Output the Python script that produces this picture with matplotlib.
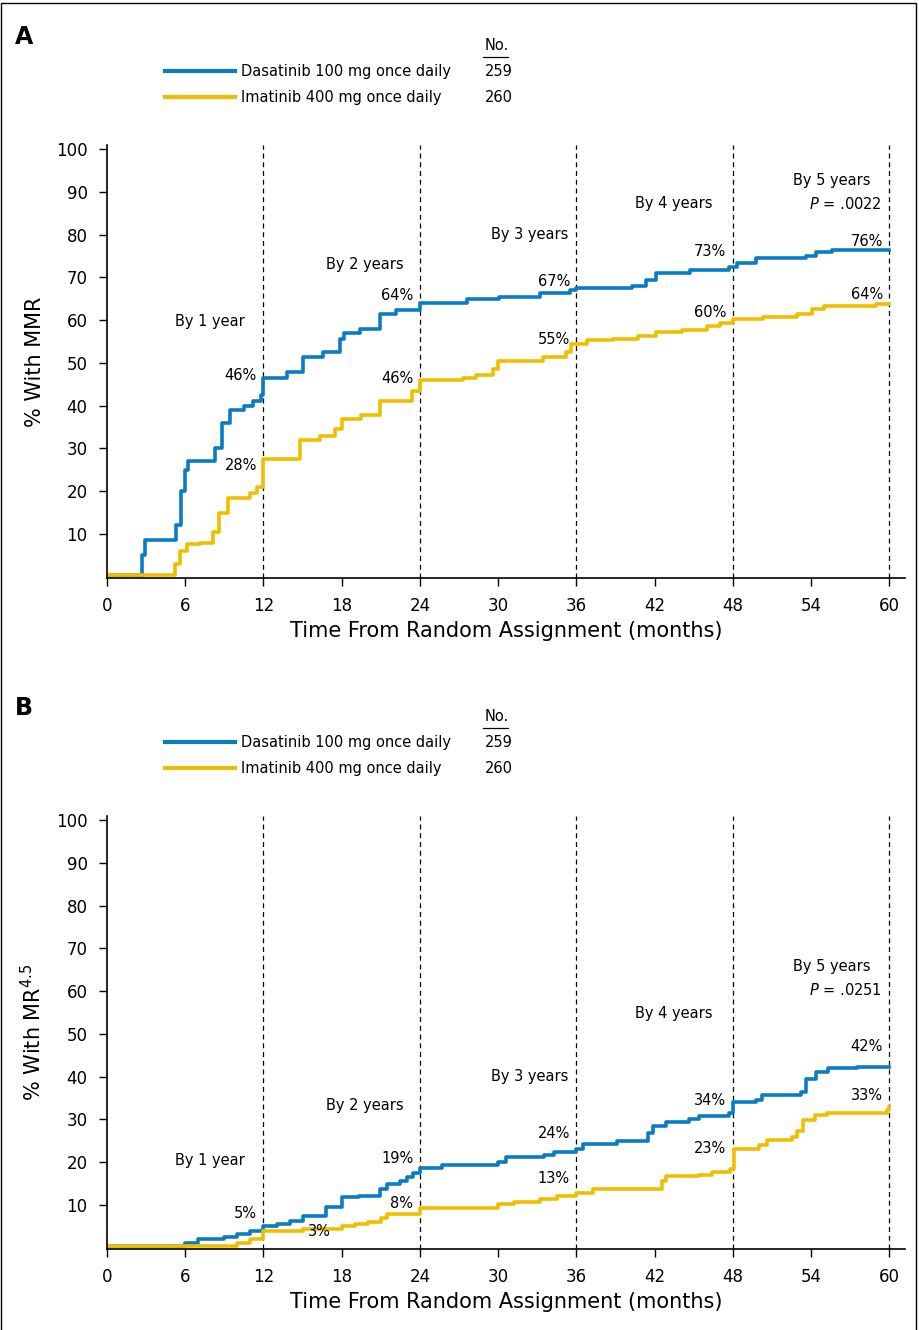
import matplotlib.pyplot as plt
from matplotlib.lines import Line2D
from matplotlib.patches import Rectangle

BLUE = '#0a7cc1'
GOLD = '#f0be00'

# Panel A (MMR): step points (month, %)
a_das_t = [0, 2.7, 2.9, 5.3, 5.7, 6.0, 6.2, 8.3, 8.8, 9.4, 10.5, 11.2, 11.8, 12.0, 13.8, 15.0, 16.6, 17.9, 18.2,
           19.4, 20.9, 22.2, 24.0, 27.6, 30.1, 33.2, 35.5, 36.0, 40.3, 41.3, 42.1, 44.7, 47.7, 48.3, 49.8, 53.6,
           54.4, 55.6, 60.0]
a_das_v = [0.5, 5, 8.5, 12, 20, 25, 27, 30, 36, 39, 40, 41, 42.5, 46.5, 48, 51.5, 52.5, 55.5, 57,
           58, 61.5, 62.5, 64, 65, 65.5, 66.3, 67, 67.5, 68, 69.5, 71, 71.8, 72.5, 73.5, 74.5, 75,
           76, 76.5, 76.5]
a_ima_t = [0, 5.2, 5.6, 6.1, 7.1, 8.1, 8.6, 9.3, 11.0, 11.5, 12.0, 14.8, 16.3, 17.5, 18.0, 19.5, 20.9, 23.4,
           24.0, 27.3, 28.3, 29.6, 30.0, 33.4, 35.2, 35.6, 36.8, 38.8, 40.7, 42.1, 44.1, 46.0, 47.0, 48.0,
           50.3, 52.9, 54.1, 55.0, 59.0, 60.0]
a_ima_v = [0.5, 3, 6, 7.7, 8, 10.5, 15, 18.5, 19.5, 21, 27.5, 32, 33, 34.5, 37, 37.8, 41, 43.5,
           46, 46.5, 47.3, 48.5, 50.5, 51.5, 52.5, 54.5, 55.3, 55.6, 56.3, 57.2, 57.8, 58.6, 59.3, 60.3,
           60.8, 61.5, 62.7, 63.3, 63.8, 63.8]

# Panel B (MR4.5)
b_das_t = [0, 6.0, 7.0, 9.0, 10.0, 11.0, 12.0, 13.0, 14.0, 15.0, 16.8, 18.0, 19.3, 20.9, 21.5, 22.5, 23.0,
           23.5, 24.0, 25.7, 30.0, 30.6, 33.5, 34.3, 36.0, 36.5, 39.1, 41.5, 41.9, 42.9, 44.6, 45.4, 47.7,
           48.0, 49.8, 50.2, 53.2, 53.6, 54.4, 55.3, 57.5, 60.0]
b_das_v = [0.5, 1.2, 2, 2.5, 3.2, 3.8, 5, 5.5, 6.2, 7.5, 9.5, 11.8, 12.2, 13.8, 14.8, 15.5, 16.5,
           17.5, 18.6, 19.3, 20, 21.3, 21.8, 22.3, 23.2, 24.3, 25, 26.8, 28.5, 29.5, 30.2, 30.8, 31.5,
           34, 34.5, 35.8, 36.5, 39.5, 41, 42, 42.3, 42.3]
b_ima_t = [0, 10.0, 11.0, 12.0, 15.0, 18.0, 19.0, 20.0, 21.0, 21.5, 24.0, 30.0, 31.2, 33.2, 34.5, 36.0,
           37.3, 42.6, 42.9, 45.4, 46.4, 47.8, 48.1, 50.0, 50.6, 52.5, 52.9, 53.4, 54.3, 55.2, 59.8, 60.0]
b_ima_v = [0.5, 1, 2, 3.8, 4.3, 5, 5.5, 6, 7, 8, 9.3, 10.3, 10.8, 11.3, 12, 12.8,
           13.8, 15.5, 16.8, 17, 17.6, 18.5, 23, 24, 25.3, 25.8, 27.3, 29.8, 31, 31.6, 32.3, 33]

years = [12, 24, 36, 48, 60]
by_labels = ['By 1 year', 'By 2 years', 'By 3 years', 'By 4 years', 'By 5 years']
a_by_pos = [(7.9, 59.8), (19.8, 73), (32.4, 80), (43.5, 87.4), (55.6, 92.8)]
b_by_pos = [(7.9, 20.4), (19.8, 33.3), (32.4, 40), (43.5, 54.8), (55.6, 65.8)]
a_das_pct = [('46%', 47), ('64%', 65.7), ('67%', 69), ('73%', 76), ('76%', 78.5)]
a_ima_pct = [('28%', 26), ('46%', 46.3), ('55%', 55.6), ('60%', 61.7), ('64%', 66)]
b_das_pct = [('5%', 8), ('19%', 20.8), ('24%', 26.7), ('34%', 34.4), ('42%', 47)]
b_ima_pct = [('3%', 3.7), ('8%', 10.3), ('13%', 16.2), ('23%', 23.2), ('33%', 35.6)]
p_values = ['.0022', '.0251']
ylabels = ['% With MMR', '% With MR$^{4.5}$']
ytick_vals = list(range(10, 101, 10))
xtick_vals = list(range(0, 61, 6))

fig = plt.figure(figsize=(9.19, 13.3), dpi=100)
fig.patches.append(Rectangle((0.0015, -0.01), 0.9955, 1.008, transform=fig.transFigure,
                             fill=False, ec='black', lw=1))


def panel(bottom, letter, das, ima, by_pos, das_pct, ima_pct, pval, ylab):
    ax = fig.add_axes([107 / 919, bottom, (905 - 107) / 919, 0.3256])
    ax.step(das[0], das[1], where='post', color=BLUE, lw=2.6)
    ax.step(ima[0], ima[1], where='post', color=GOLD, lw=2.6)
    for yr in years:
        ax.axvline(yr, color='black', ls=(0, (4, 3)), lw=0.9, zorder=0)
    for lab, (x, y) in zip(by_labels, by_pos):
        ax.text(x, y, lab, ha='center', va='center', fontsize=10.5)
    ax.text(60 - 0.6, by_pos[-1][1] - 5.6, '$P$ = ' + pval, ha='right', va='center', fontsize=10.5)
    for yr, (lab, y) in zip(years, das_pct):
        ax.text(yr - 0.5, y, lab, ha='right', va='center', fontsize=10.5)
    for yr, (lab, y) in zip(years, ima_pct):
        if lab == '3%':
            ax.text(16.3, y, lab, ha='center', va='center', fontsize=10.5)
        else:
            ax.text(yr - 0.5, y, lab, ha='right', va='center', fontsize=10.5)
    ax.set_xlim(0, 61.2)
    ax.set_ylim(-0.3, 101)
    ax.set_yticks(ytick_vals)
    ax.set_yticklabels([str(k) for k in ytick_vals], fontsize=12)
    ax.set_xticks(xtick_vals)
    ax.set_xticklabels([str(k) for k in xtick_vals], fontsize=12)
    ax.tick_params(direction='out', length=6, width=1, pad=8)
    for s in ['top', 'right']:
        ax.spines[s].set_visible(False)
    ax.spines['left'].set_linewidth(1.2)
    ax.spines['bottom'].set_linewidth(1.2)
    ax.set_xlabel('Time From Random Assignment (months)', fontsize=15, labelpad=4)
    ax.set_ylabel(ylab, fontsize=15, labelpad=8)

    # legend block and panel letter
    top = bottom + 0.3256
    yb = top + 0.0553
    yi = top + 0.0358
    fig.text(15 / 919, top + 0.0812, letter, fontsize=17, fontweight='bold', va='center')
    fig.add_artist(Line2D([165 / 919, 235 / 919], [yb, yb], color=BLUE, lw=3))
    fig.add_artist(Line2D([165 / 919, 235 / 919], [yi, yi], color=GOLD, lw=3))
    fig.text(241 / 919, yb, 'Dasatinib 100 mg once daily', fontsize=10.5, va='center')
    fig.text(241 / 919, yi, 'Imatinib 400 mg once daily', fontsize=10.5, va='center')
    fig.text(485 / 919, yb, '259', fontsize=10.5, va='center')
    fig.text(485 / 919, yi, '260', fontsize=10.5, va='center')
    fig.text(485 / 919, yb + 0.0195, 'No.', fontsize=10.5, va='center')
    fig.add_artist(Line2D([483 / 919, 508 / 919], [yb + 0.0105, yb + 0.0105], color='black', lw=0.9))
    return ax


panel(0.5654, 'A', (a_das_t, a_das_v), (a_ima_t, a_ima_v), a_by_pos, a_das_pct, a_ima_pct,
      p_values[0], ylabels[0])
panel(0.0609, 'B', (b_das_t, b_das_v), (b_ima_t, b_ima_v), b_by_pos, b_das_pct, b_ima_pct,
      p_values[1], ylabels[1])

fig.savefig('out.png', dpi=100)
